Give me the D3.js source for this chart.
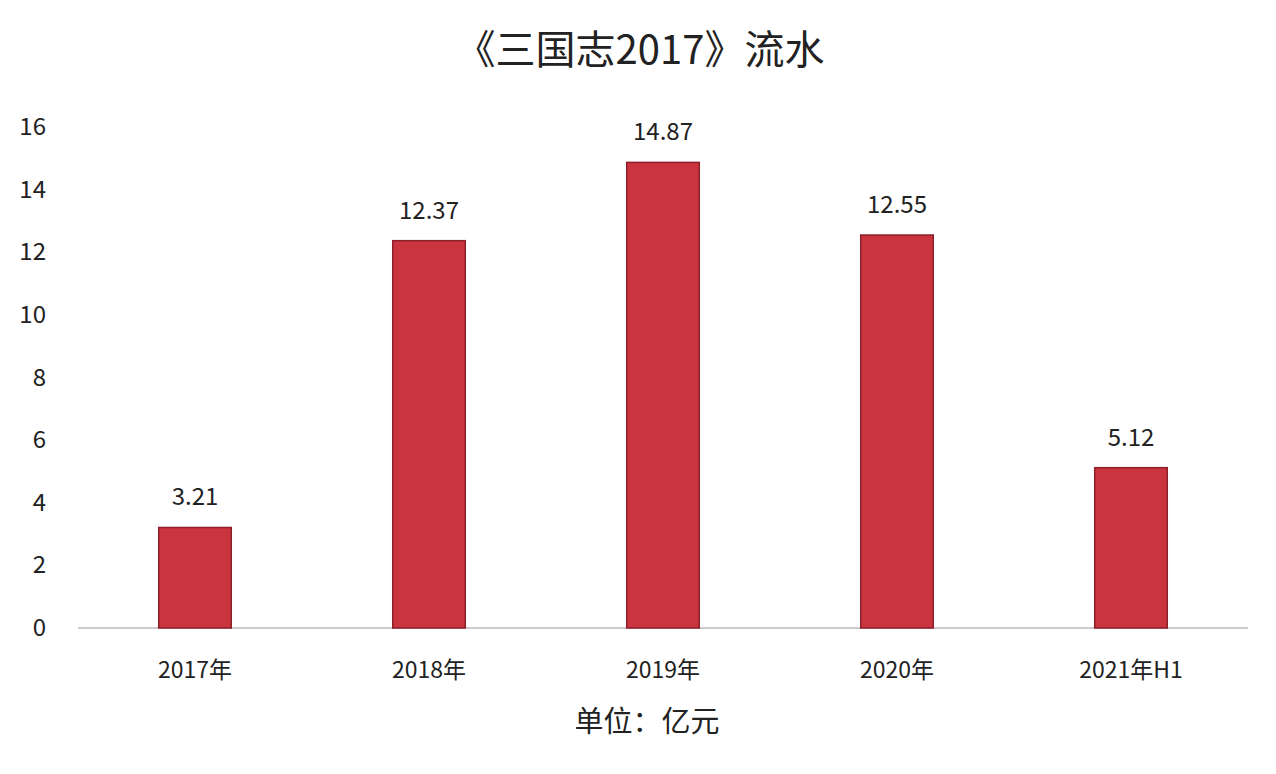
<!DOCTYPE html>
<html><head><meta charset="utf-8">
<script src="https://cdn.jsdelivr.net/npm/d3@7"></script>
<style>body{margin:0;background:#fff}svg{font-family:"Noto Sans CJK SC","Noto Sans",sans-serif}</style>
</head><body><svg id="c" width="1276" height="774"></svg>
<script>
const categories = ["2017年","2018年","2019年","2020年","2021年H1"];
const values = [3.21,12.37,14.87,12.55,5.12];
const yTicks = [0,2,4,6,8,10,12,14,16];

const svg = d3.select("#c");
const x = d3.scaleBand().domain(categories).range([78,1248]).paddingInner(0.69).paddingOuter(0.345);
const y = d3.scaleLinear().domain([0,16]).range([628,127]);

svg.append("text").attr("x",640).attr("y",64).attr("text-anchor","middle")
  .attr("font-size",40).attr("fill","#222").text("《三国志2017》流水");

svg.append("g").selectAll("text").data(yTicks).join("text")
  .attr("x",46).attr("y",d=>y(d)+8).attr("text-anchor","end")
  .attr("font-size",24).attr("fill","#222").text(d=>d);

svg.append("line").attr("x1",78).attr("x2",1248).attr("y1",y(0)).attr("y2",y(0))
  .attr("stroke","#bbb").attr("stroke-width",1.5);

svg.append("g").selectAll("rect").data(values).join("rect")
  .attr("x",(d,i)=>x(categories[i])).attr("width",x.bandwidth())
  .attr("y",d=>y(d)).attr("height",d=>y(0)-y(d))
  .attr("fill","#c9343f").attr("stroke","#8e1e28").attr("stroke-width",1.5);

svg.append("g").selectAll("text").data(values).join("text")
  .attr("x",(d,i)=>x(categories[i])+x.bandwidth()/2).attr("y",d=>y(d)-22)
  .attr("text-anchor","middle").attr("font-size",24).attr("fill","#222").text(d=>d.toFixed(2));

svg.append("g").selectAll("text").data(categories).join("text")
  .attr("x",d=>x(d)+x.bandwidth()/2).attr("y",678)
  .attr("text-anchor","middle").attr("font-size",23).attr("fill","#222").text(d=>d);

svg.append("text").attr("x",647).attr("y",732).attr("text-anchor","middle")
  .attr("font-size",29).attr("fill","#222").text("单位：亿元");
</script></body></html>
